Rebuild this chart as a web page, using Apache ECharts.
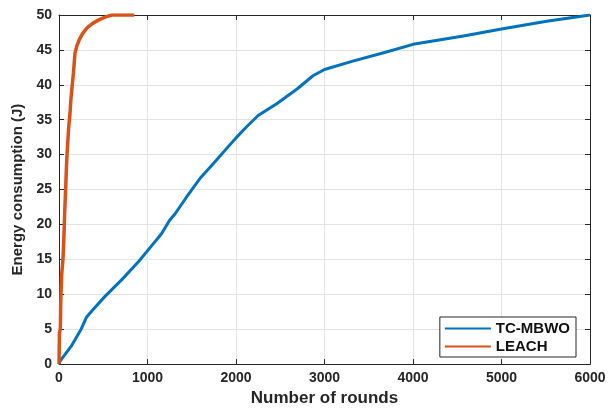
<!DOCTYPE html>
<html>
<head>
<meta charset="utf-8">
<script src="https://cdn.jsdelivr.net/npm/echarts@6/dist/echarts.min.js"></script>
<style>
  html, body { margin: 0; padding: 0; background: #fff; }
  #chart { width: 609px; height: 412px; }
</style>
</head>
<body>
<div id="chart"></div>
<script>
// Cumulative energy consumed (J) versus simulation round
const tcMbwoRounds = [0, 10, 140, 250, 310, 370, 520, 710, 900, 1050, 1160, 1250, 1310, 1440, 1520, 1600, 1750, 1930, 2000, 2120, 2250, 2460, 2690, 2870, 3000, 3320, 3700, 4000, 4570, 5000, 5510, 6000];
const tcMbwoEnergy = [0, 0.4, 2.6, 5.0, 6.7, 7.6, 9.7, 12.1, 14.7, 17.0, 18.7, 20.6, 21.5, 23.9, 25.3, 26.7, 28.8, 31.4, 32.4, 34.0, 35.6, 37.3, 39.4, 41.3, 42.2, 43.4, 44.7, 45.8, 47.0, 48.0, 49.1, 50.0];

const leachRounds = [0, 5, 15, 20, 30, 45, 55, 65, 75, 85, 95, 110, 125, 135, 150, 165, 180, 200, 230, 270, 320, 380, 450, 520, 600, 850];
const leachEnergy = [0, 4.5, 5.0, 9.0, 12.8, 15.0, 18.0, 22.0, 25.0, 28.5, 31.0, 34.0, 36.0, 38.0, 40.0, 42.0, 44.5, 45.5, 46.5, 47.4, 48.2, 48.8, 49.3, 49.7, 50.0, 50.0];

const xTicks = [0, 1000, 2000, 3000, 4000, 5000, 6000];
const yTicks = [0, 5, 10, 15, 20, 25, 30, 35, 40, 45, 50];

const pairs = (xs, ys) => xs.map((x, i) => [x, ys[i]]);

const font = 'Liberation Sans, Arial, sans-serif';
const ink = '#262626';
const gridLine = { show: true, lineStyle: { color: '#e3e3e3', width: 1 } };
const frameLine = { show: true, onZero: false, lineStyle: { color: ink, width: 1 } };
const innerTick = { show: true, inside: true, length: 5, lineStyle: { color: ink } };

const chart = echarts.init(document.getElementById('chart'));
chart.setOption({
  animation: false,
  grid: { left: 59, right: 19, top: 15, bottom: 43, containLabel: false },
  xAxis: [{
    type: 'value', min: xTicks[0], max: xTicks[xTicks.length - 1], interval: 1000,
    name: 'Number of rounds', nameLocation: 'middle', nameGap: 25,
    nameTextStyle: { fontFamily: font, fontWeight: 'bold', fontSize: 17, color: ink },
    axisLine: frameLine, axisTick: innerTick,
    axisLabel: { fontFamily: font, fontWeight: 'bold', fontSize: 14, color: ink, margin: 7,
                 formatter: v => String(v) },
    splitLine: gridLine
  }, {
    type: 'value', position: 'top', min: xTicks[0], max: xTicks[xTicks.length - 1], interval: 1000,
    axisLine: frameLine, axisTick: innerTick,
    axisLabel: { show: false }, splitLine: { show: false }
  }],
  yAxis: [{
    type: 'value', min: yTicks[0], max: yTicks[yTicks.length - 1], interval: 5,
    name: 'Energy consumption (J)', nameLocation: 'middle', nameGap: 34,
    nameTextStyle: { fontFamily: font, fontWeight: 'bold', fontSize: 15, color: ink },
    axisLine: frameLine, axisTick: innerTick,
    axisLabel: { fontFamily: font, fontWeight: 'bold', fontSize: 14, color: ink, margin: 7 },
    splitLine: gridLine
  }, {
    type: 'value', position: 'right', min: yTicks[0], max: yTicks[yTicks.length - 1], interval: 5,
    axisLine: frameLine, axisTick: innerTick,
    axisLabel: { show: false }, splitLine: { show: false }
  }],
  legend: {
    right: 33, bottom: 55,
    orient: 'vertical',
    backgroundColor: '#fff',
    borderColor: ink, borderWidth: 1, borderRadius: 0,
    padding: [4, 6, 3, 5],
    itemGap: 3, itemWidth: 46, itemHeight: 15,
    icon: 'path://M0,6 L46,6 L46,8 L0,8 Z',
    textStyle: { fontFamily: font, fontWeight: 'bold', fontSize: 15, color: '#111' },
    data: ['TC-MBWO', 'LEACH']
  },
  series: [{
    name: 'TC-MBWO', type: 'line', showSymbol: false,
    data: pairs(tcMbwoRounds, tcMbwoEnergy),
    lineStyle: { color: '#0072BD', width: 3, join: 'round' }, itemStyle: { color: '#0072BD' }, z: 3
  }, {
    name: 'LEACH', type: 'line', showSymbol: false,
    data: pairs(leachRounds, leachEnergy),
    lineStyle: { color: '#D95319', width: 3.5, join: 'round' }, itemStyle: { color: '#D95319' }, z: 4
  }]
});
</script>
</body>
</html>
